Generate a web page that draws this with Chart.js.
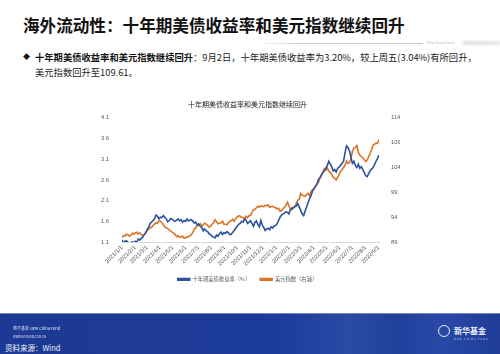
<!DOCTYPE html>
<html><head><meta charset="utf-8">
<script src="https://cdn.jsdelivr.net/npm/chart.js@4/dist/chart.umd.min.js"></script>
<style>
html,body{margin:0;padding:0;background:#fff;}
body{width:500px;height:354px;position:relative;overflow:hidden;font-family:"Noto Sans CJK SC","Noto Sans",sans-serif;}
.abs{position:absolute;white-space:nowrap;z-index:2;}
#title{left:23px;top:17px;font-size:16.6px;line-height:16.6px;font-weight:bold;color:#111;}
#rule{left:255px;top:43px;width:168px;height:1px;background:linear-gradient(90deg,rgba(200,200,200,0),#c8c8c8 30%,#c8c8c8);}
#ncf{left:427px;top:40px;font-size:7px;color:#b0b0b0;transform:scale(0.5);transform-origin:left top;}
#grey{left:463px;top:41px;width:37px;height:4px;background:linear-gradient(90deg,#ddd,#e8e8e8);filter:blur(1px);}
#bullet{left:23px;top:52px;font-size:7px;line-height:9px;color:#111;}
#body{left:35px;top:49.5px;font-size:9.3px;line-height:15px;color:#222;}
#body b{color:#111;}
#footer{position:absolute;left:0;top:313px;width:500px;height:41px;background:linear-gradient(90deg,#1c3994 0%,#1d3b98 55%,#2b4aa6 70%,#20409c 80%,#2a49a6 88%,#1e3c98 100%);z-index:1;}
#footline{position:absolute;left:0;top:313px;width:500px;height:1px;background:#6d86c8;z-index:1;}
.ft{color:#dfe5f3;}
#f1{left:13px;top:325px;font-size:8px;transform:scale(0.5);transform-origin:left top;}
#f2{left:13px;top:334px;font-size:6px;transform:scale(0.5);transform-origin:left top;}
#f3{left:5px;top:342.5px;font-size:7.5px;line-height:10px;color:#eef1f8;}
#logo{left:438px;top:325px;width:10px;height:10px;border:1.3px solid #e8ecf6;border-radius:50%;}
#logot{left:454px;top:325.5px;font-size:8px;line-height:9px;font-weight:bold;color:#eef1f8;}
#logos{left:454px;top:336.5px;font-size:5px;color:#c8d0e8;transform:scale(0.5);transform-origin:left top;letter-spacing:2px;}
#cv{position:absolute;left:0;top:90px;z-index:0;}
</style></head>
<body>
<div class="abs" id="title">海外流动性：十年期美债收益率和美元指数继续回升</div>
<div class="abs" id="rule"></div>
<div class="abs" id="ncf">New China Fund</div>
<div class="abs" id="grey"></div>
<div class="abs" id="bullet">◆</div>
<div class="abs" id="body"><b>十年期美债收益率和美元指数继续回升</b>：9月2日，十年期美债收益率为3.20%，较上周五(3.04%)有所回升，<br>美元指数回升至109.61。</div>
<canvas id="cv" width="500" height="223"></canvas>
<div id="footer"></div>
<div id="footline"></div>
<div class="abs ft" id="f1">新华基金 New China Fund</div>
<div class="abs ft" id="f2">WWW.NCFUND.COM.CN</div>
<div class="abs" id="f3">资料来源：Wind</div>
<div class="abs" id="logo"></div>
<div class="abs" id="logot">新华基金</div>
<div class="abs" id="logos">NEW CHINA FUND</div>
<script>
const chartTitle = '十年期美债收益率和美元指数继续回升';
const seriesNames = ['十年期美债收益率（%）', '美元指数（右轴）'];
const startDate = '2021-01-01';
const stepDays = 3.5; // twice-weekly observations from 2021-01-01 to 2022-09-02
const monthLabels = ['2021/1/1','2021/2/1','2021/3/1','2021/4/1','2021/5/1','2021/6/1','2021/7/1','2021/8/1','2021/9/1','2021/10/1','2021/11/1','2021/12/1','2022/1/1','2022/2/1','2022/3/1','2022/4/1','2022/5/1','2022/6/1','2022/7/1','2022/8/1','2022/9/1'];
const leftTicks = [1.1, 1.6, 2.1, 2.6, 3.1, 3.6, 4.1];
const rightTicks = [89, 94, 99, 104, 109, 114];
const yield10y = [
 1.15,1.09,1.12,1.13,1.10,1.07,1.09,1.11,1.08,1.12,
 1.10,1.17,1.15,1.19,1.22,1.28,1.32,1.40,1.45,1.55,
 1.58,1.62,1.66,1.75,1.72,1.66,1.70,1.69,1.74,1.70,
 1.66,1.59,1.62,1.67,1.65,1.62,1.60,1.63,1.66,1.61,
 1.64,1.58,1.62,1.60,1.66,1.61,1.63,1.64,1.60,1.56,
 1.58,1.51,1.54,1.48,1.45,1.37,1.42,1.37,1.35,1.30,
 1.28,1.24,1.22,1.20,1.27,1.24,1.30,1.34,1.28,1.33,
 1.31,1.35,1.33,1.28,1.29,1.34,1.38,1.44,1.48,1.53,
 1.55,1.60,1.58,1.66,1.63,1.55,1.58,1.62,1.55,1.48,
 1.58,1.61,1.52,1.47,1.62,1.51,1.45,1.38,1.42,1.43,
 1.40,1.47,1.44,1.49,1.50,1.54,1.62,1.70,1.75,1.78,
 1.80,1.83,1.82,1.78,1.88,1.92,1.92,1.96,1.97,2.03,
 1.95,1.86,1.78,1.74,1.85,1.95,2.05,2.15,2.22,2.33,
 2.38,2.45,2.50,2.61,2.65,2.72,2.78,2.82,2.88,2.95,
 3.05,2.98,2.92,2.82,2.85,2.79,2.88,2.91,2.95,3.00,
 3.05,3.25,3.42,3.38,3.30,3.15,3.00,3.05,2.95,2.90,
 2.98,2.88,2.92,2.85,2.78,2.70,2.68,2.75,2.82,2.86,
 2.90,2.97,3.05,3.12,3.20];
const dxy = [
 89.9,90.3,90.2,90.6,90.5,90.2,90.4,90.8,90.6,90.9,
 91.0,90.6,90.9,90.5,90.4,90.5,90.9,91.3,91.6,91.8,
 92.0,92.3,92.6,92.9,92.8,93.3,93.2,92.9,92.5,92.0,
 91.9,91.7,91.4,91.2,91.0,90.8,90.5,90.1,90.3,90.0,
 90.0,90.2,89.8,89.9,90.0,90.1,90.3,90.5,91.0,91.6,
 91.9,92.4,92.3,92.7,92.2,92.5,92.8,92.6,92.3,92.0,
 92.2,92.6,92.9,93.5,93.1,92.7,92.8,92.9,93.2,92.6,
 92.6,92.5,92.9,93.2,93.3,93.6,93.2,93.8,94.0,94.3,
 94.2,94.0,93.9,93.6,94.2,93.9,94.3,94.4,94.9,95.5,
 95.6,95.9,96.2,96.0,96.3,96.2,96.1,96.4,96.3,96.5,
 96.0,96.1,96.2,96.0,95.9,95.7,95.8,95.2,95.3,95.7,
 96.0,96.4,97.0,96.3,95.6,95.5,96.0,96.1,96.8,97.4,
 97.6,98.8,98.4,98.3,98.2,98.6,98.8,98.3,99.2,99.5,
 99.8,100.2,100.6,101.0,101.8,102.4,103.0,103.8,103.5,103.9,
 103.2,103.0,102.6,102.0,101.8,101.5,102.0,102.6,103.2,103.6,
 104.0,104.5,105.3,104.8,105.0,105.8,107.2,107.9,108.0,108.4,
 107.0,106.5,106.2,105.9,105.6,105.2,105.5,106.2,106.8,107.6,
 108.5,108.7,108.9,108.8,109.61];

const t0 = Date.parse(startDate);
const dayOf = s => { const [y, m, d] = s.split('/').map(Number); return Math.round((Date.UTC(y, m - 1, d) - t0) / 86400000); };
const monthDays = monthLabels.map(dayOf);
const toPts = arr => arr.map((v, i) => ({x: i * stepDays, y: v}));
const lastDay = (yield10y.length - 1) * stepDays;

const tickFont = {family: '"Liberation Sans","Noto Sans CJK SC",sans-serif', size: 5.8};
const BLUE = '#2d53a0', ORANGE = '#dc7326';

new Chart(document.getElementById('cv'), {
  type: 'line',
  data: {datasets: [
    {label: seriesNames[0], data: toPts(yield10y), yAxisID: 'y', borderColor: BLUE, backgroundColor: BLUE, borderWidth: 1.6, pointRadius: 0, tension: 0},
    {label: seriesNames[1], data: toPts(dxy), yAxisID: 'y1', borderColor: ORANGE, backgroundColor: ORANGE, borderWidth: 1.6, pointRadius: 0, tension: 0}
  ]},
  options: {
    responsive: false, animation: false, devicePixelRatio: 1,
    layout: {padding: {left: 95, right: 100, top: 0, bottom: 21}},
    plugins: {
      title: {display: true, text: chartTitle, color: '#222', font: {family: '"Noto Sans CJK SC",sans-serif', size: 7, weight: 'normal'}, padding: {top: 9.8, bottom: 9.5}},
      legend: {position: 'bottom', labels: {boxWidth: 12, boxHeight: 1.6, padding: 10, color: '#595959', font: {family: '"Noto Sans CJK SC",sans-serif', size: 5.3}}},
      tooltip: {enabled: false}
    },
    scales: {
      x: {type: 'linear', min: 0, max: lastDay,
        afterBuildTicks: s => { s.ticks = monthDays.map(v => ({value: v})); },
        afterFit: s => { s.height = 24.6; },
        ticks: {autoSkip: false, minRotation: 45, maxRotation: 45, padding: 2, color: '#595959', font: tickFont,
          callback: (v, i) => monthLabels[i]},
        grid: {display: false, drawTicks: false},
        border: {display: true, color: '#d9d9d9', width: 1}},
      y: {position: 'left', min: leftTicks[0], max: leftTicks[leftTicks.length-1],
        afterBuildTicks: s => { s.ticks = leftTicks.map(v => ({value: v})); },
        afterFit: s => { s.width = 27; },
        ticks: {color: '#595959', font: tickFont, padding: 5, callback: v => v.toFixed(1)},
        grid: {display: false}, border: {display: false}},
      y1: {position: 'right', min: rightTicks[0], max: rightTicks[rightTicks.length-1],
        afterBuildTicks: s => { s.ticks = rightTicks.map(v => ({value: v})); },
        afterFit: s => { s.width = 21; },
        ticks: {color: '#595959', font: tickFont, padding: 4, callback: v => String(v)},
        grid: {display: false}, border: {display: false}}
    }
  }
});
</script>
</body></html>
